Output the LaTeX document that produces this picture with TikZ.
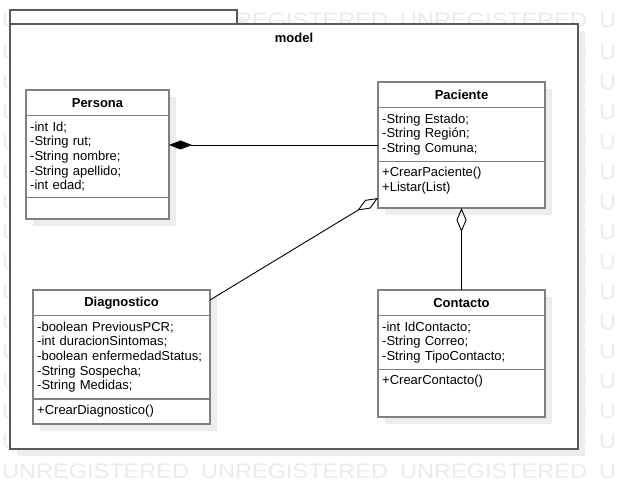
\documentclass[tikz,border=0pt]{standalone}
\usepackage{fontspec}
\setmainfont{Liberation Sans}
\newfontfamily\wmfont[FakeStretch=1.12]{Liberation Sans}
\usetikzlibrary{positioning,calc,shadows,arrows.meta}

\begin{document}
\begin{tikzpicture}[x=1pt,y=-1pt,
    wm/.style={font=\wmfont\fontsize{21}{21}\selectfont, text=black!8, inner sep=0pt, anchor=base west},
    pkg/.style={draw=black!65, line width=1.5pt, fill=white, inner sep=0pt, outer sep=0pt, anchor=north west,
      drop shadow={shadow xshift=7pt, shadow yshift=-7pt, fill=black!7, opacity=1}},
    umlclass/.style={pkg, draw=black!50, line width=1.6pt},
    classname/.style={font=\fontsize{13}{15}\selectfont\bfseries, inner sep=0pt, minimum height=25pt},
    members/.style={font=\fontsize{13}{14.7}\selectfont, align=left, inner xsep=4pt, inner ysep=6pt, anchor=north west},
    divider/.style={draw=black!50, line width=1.6pt},
    compo/.style={-{Diamond[length=23pt,width=9pt]}, line width=0.9pt},
    aggr/.style={-{Diamond[open,fill=white,length=24pt,width=10pt]}, line width=0.9pt}]

  \useasboundingbox (0,0) rectangle (618,489);

  % watermark: full rows at top and bottom, edges in between
  \foreach \c in {0,1,2}
    \node[wm] (wm-0-\c) at (2+199*\c, 28) {UNREGISTERED};
  \node[wm] (wm-0-3) at (599, 28) {U};
  \foreach \c in {0,1,2}
    \node[wm] (wm-15-\c) at (2+199*\c, 478.5) {UNREGISTERED};
  \node[wm] (wm-15-3) at (599, 478.5) {U};
  \foreach \r in {1,...,14}{
    \node[wm] (wm-\r-0) at (2, 30+29.9*\r) {U};
    \node[wm] (wm-\r-2) at (400, 30+29.9*\r) {\phantom{UNREGISTERE}D};
    \node[wm] (wm-\r-3) at (599, 30+29.9*\r) {U};
  }

  % package
  \node[pkg, minimum width=227pt, minimum height=14pt] (tab) at (10,10) {};
  \node[pkg, minimum width=568pt, minimum height=425pt] (model) at (10,24) {};
  \node[font=\fontsize{13}{15}\selectfont\bfseries] (modelname) at ($(model.north)+(0,13.5)$) {model};

  % Persona
  \node[umlclass, minimum width=143pt, minimum height=129pt] (persona) at (26,90) {};
  \node[classname, below=0pt of persona.north] (personaname) {Persona};
  \node[members, text width=135pt] (personaattr) at (personaname.south -| persona.west)
    {-int Id;\\-String rut;\\-String nombre;\\-String apellido;\\-int edad;};
  \draw[divider] (personaname.south -| persona.west) -- (personaname.south -| persona.east);
  \draw[divider] (personaattr.south west) -- (personaattr.south east);

  % Paciente
  \node[umlclass, minimum width=167pt, minimum height=126pt] (paciente) at (378,82) {};
  \node[classname, below=0pt of paciente.north] (pacientename) {Paciente};
  \node[members, text width=159pt] (pacienteattr) at (pacientename.south -| paciente.west)
    {-String Estado;\\-String Regi\'on;\\-String Comuna;};
  \node[members] (pacienteops) at (pacienteattr.south west) {+CrearPaciente()\\+Listar(List)};
  \draw[divider] (pacientename.south -| paciente.west) -- (pacientename.south -| paciente.east);
  \draw[divider] (pacienteattr.south west) -- (pacienteattr.south east);

  % Diagnostico
  \node[umlclass, minimum width=177pt, minimum height=134pt] (diagnostico) at (33,290) {};
  \node[classname, below=0pt of diagnostico.north] (diagnosticoname) {Diagnostico};
  \node[members, text width=169pt] (diagnosticoattr) at (diagnosticoname.south -| diagnostico.west)
    {-boolean PreviousPCR;\\-int duracionSintomas;\\-boolean enfermedadStatus;\\-String Sospecha;\\-String Medidas;};
  \node[members] (diagnosticoops) at (diagnosticoattr.south west) {+CrearDiagnostico()};
  \draw[divider] (diagnosticoname.south -| diagnostico.west) -- (diagnosticoname.south -| diagnostico.east);
  \draw[divider] (diagnosticoattr.south west) -- (diagnosticoattr.south east);

  % Contacto
  \node[umlclass, minimum width=167pt, minimum height=127pt] (contacto) at (378,290) {};
  \node[classname, below=0pt of contacto.north] (contactoname) {Contacto};
  \node[members, text width=159pt] (contactoattr) at (contactoname.south -| contacto.west)
    {-int IdContacto;\\-String Correo;\\-String TipoContacto;};
  \node[members] (contactoops) at (contactoattr.south west) {+CrearContacto()};
  \draw[divider] (contactoname.south -| contacto.west) -- (contactoname.south -| contacto.east);
  \draw[divider] (contactoattr.south west) -- (contactoattr.south east);

  % relations
  \draw[compo] (paciente.west) -- (paciente.west -| persona.east);
  \draw[aggr] ($(diagnostico.north east)+(0,10)$) -- ($(paciente.south west)+(0,-10)$);
  \draw[aggr] (contacto.north) -- (paciente.south);
\end{tikzpicture}
\end{document}
